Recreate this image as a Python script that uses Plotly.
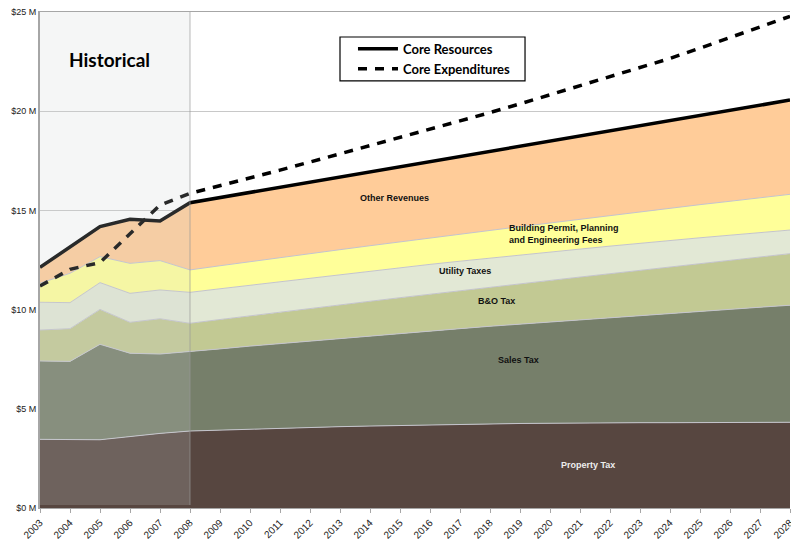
import plotly.graph_objects as go

years = list(range(2003, 2029))

# cumulative tops (in $M), converted to layer values below
property_top = [3.46, 3.45, 3.44, 3.60, 3.76, 3.88, 3.93, 3.98, 4.02, 4.06, 4.10, 4.13, 4.16,
                4.19, 4.22, 4.24, 4.26, 4.27, 4.29, 4.30, 4.30, 4.30, 4.31, 4.31, 4.32, 4.32]
sales_top = [7.41, 7.39, 8.25, 7.80, 7.76, 7.88, 8.02, 8.16, 8.29, 8.42, 8.55, 8.68, 8.80,
             8.92, 9.04, 9.16, 9.27, 9.38, 9.49, 9.60, 9.71, 9.81, 9.91, 10.02, 10.12, 10.22]
bo_top = [8.97, 9.04, 10.01, 9.36, 9.54, 9.31, 9.50, 9.69, 9.88, 10.06, 10.24, 10.42, 10.60,
          10.78, 10.96, 11.13, 11.30, 11.47, 11.64, 11.81, 11.98, 12.15, 12.32, 12.49, 12.65, 12.82]
utility_top = [10.37, 10.35, 11.36, 10.82, 10.99, 10.87, 11.05, 11.23, 11.41, 11.59, 11.77, 11.95, 12.12,
               12.28, 12.44, 12.60, 12.75, 12.90, 13.05, 13.20, 13.35, 13.49, 13.62, 13.75, 13.88, 14.01]
permit_top = [11.33, 11.83, 12.67, 12.33, 12.47, 12.00, 12.21, 12.42, 12.62, 12.82, 13.02, 13.22, 13.42,
              13.61, 13.80, 13.99, 14.18, 14.37, 14.56, 14.75, 14.93, 15.11, 15.29, 15.46, 15.63, 15.81]
core_resources = [12.13, 13.17, 14.18, 14.55, 14.47, 15.39, 15.65, 15.91, 16.17, 16.42, 16.68, 16.94, 17.20,
                  17.46, 17.72, 17.98, 18.23, 18.49, 18.75, 19.01, 19.27, 19.53, 19.78, 20.04, 20.30, 20.56]
core_expenditures = [11.19, 12.03, 12.37, 13.84, 15.27, 15.86, 16.24, 16.63, 17.03, 17.44, 17.85, 18.26, 18.67,
                     19.08, 19.50, 19.93, 20.37, 20.82, 21.27, 21.73, 22.19, 22.66, 23.18, 23.70, 24.23, 24.78]

layer_names = ["Property Tax", "Sales Tax", "B&O Tax", "Utility Taxes",
               "Building Permit, Planning and Engineering Fees", "Other Revenues"]
layer_colors = ["#574640", "#767F6A", "#C2C993", "#E2E8D5", "#FFFF99", "#FFCC99"]

y_tickvals = [0, 5, 10, 15, 20, 25]
y_ticktext = ["$0 M", "$5 M", "$10 M", "$15 M", "$20 M", "$25 M"]

tops = [property_top, sales_top, bo_top, utility_top, permit_top, core_resources]
layers = []
prev = [0.0] * len(years)
for top in tops:
    layers.append([round(t - p, 3) for t, p in zip(top, prev)])
    prev = top

fig = go.Figure()

for name, color, vals in zip(layer_names, layer_colors, layers):
    fig.add_trace(go.Scatter(
        x=years, y=vals, name=name, stackgroup="rev", mode="lines",
        line=dict(width=1, color="#C4C4CC"), fillcolor=color, showlegend=False,
    ))

fig.add_trace(go.Scatter(
    x=years, y=core_resources, name="Core Resources", mode="lines", legendgroup="res",
    line=dict(color="black", width=3.5),
))
fig.add_trace(go.Scatter(
    x=years, y=core_expenditures, name="Core Expenditures", mode="lines", legendgroup="exp",
    line=dict(color="black", width=3.5, dash="9px,8px"),
))

# historical band
fig.add_shape(type="rect", xref="x", yref="y", x0=2003, x1=2008, y0=0.15, y1=25,
              fillcolor="rgba(205,212,212,0.2)", line_width=0, layer="above")
fig.add_shape(type="line", xref="x", yref="y", x0=2008, x1=2008, y0=0.15, y1=25,
              line=dict(color="rgba(150,150,150,0.45)", width=1.5), layer="above")

# legend frame
fig.add_shape(type="rect", xref="paper", yref="paper", x0=0.4, x1=0.6467, y0=0.861, y1=0.9496,
              fillcolor="white", line=dict(color="black", width=1.2), layer="above")

fig.add_annotation(x=2005.33, y=22.63, text="<b>Historical</b>", showarrow=False,
                   font=dict(family="Lato", size=19, color="black"))

lbl_font = dict(family="Liberation Sans", size=9, color="#111")
fig.add_annotation(x=2014.83, y=15.62, text="<b>Other Revenues</b>", showarrow=False, font=lbl_font)
fig.add_annotation(x=2018.57, y=13.82, text="<b>Building Permit, Planning<br>and Engineering Fees</b>",
                   showarrow=False, xanchor="left", align="left", font=lbl_font)
fig.add_annotation(x=2017.17, y=11.96, text="<b>Utility Taxes</b>", showarrow=False, font=lbl_font)
fig.add_annotation(x=2018.2, y=10.45, text="<b>B&O Tax</b>", showarrow=False, font=lbl_font)
fig.add_annotation(x=2018.95, y=7.46, text="<b>Sales Tax</b>", showarrow=False, font=lbl_font)
fig.add_annotation(x=2021.27, y=2.17, text="<b>Property Tax</b>", showarrow=False,
                   font=dict(family="Liberation Sans", size=9, color="#EDEDED"))

fig.update_layout(
    width=791, height=540,
    margin=dict(l=40, r=1, t=12, b=32),
    paper_bgcolor="white", plot_bgcolor="white",
    legend=dict(
        x=0.4173, y=0.956, xanchor="left", yanchor="top", traceorder="normal",
        bgcolor="rgba(0,0,0,0)", borderwidth=0, tracegroupgap=3,
        font=dict(family="Lato", size=13, color="black", weight="bold"),
        itemwidth=40,
    ),
)
fig.update_xaxes(
    range=[2003, 2028], dtick=1, tickangle=-45, showgrid=False, automargin=False,
    showline=True, linecolor="#A6A6A6", linewidth=1, mirror=True,
    ticks="outside", ticklen=4, tickcolor="#A6A6A6", ticklabeloverflow="allow",
    tickfont=dict(family="Liberation Sans", size=10, color="#222"),
)
fig.update_yaxes(
    range=[0, 25], tickvals=y_tickvals, ticktext=y_ticktext, automargin=False,
    showgrid=True, gridcolor="#C8C8C8", gridwidth=1,
    showline=True, linecolor="#A6A6A6", linewidth=2,
    zeroline=False,
    tickfont=dict(family="Liberation Sans", size=9, color="#222"),
)

fig.write_html("out.html", config={"displayModeBar": False},
               post_script="document.body.style.margin='0';")
